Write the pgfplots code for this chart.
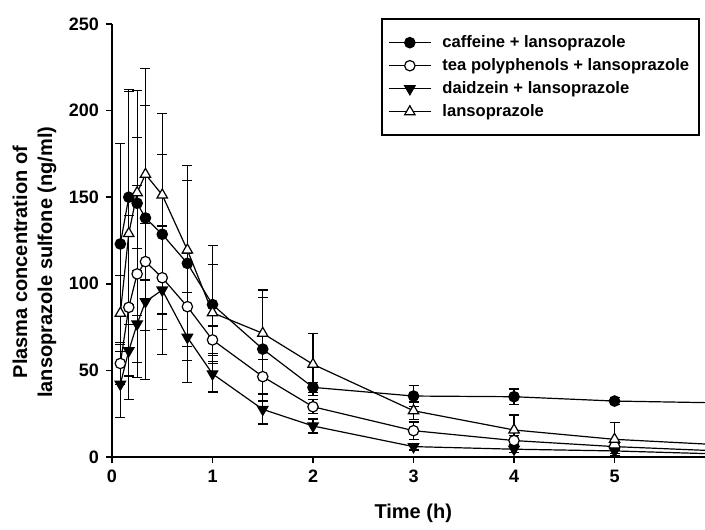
\documentclass[border=0pt]{standalone}
\usepackage{fontspec}
\setmainfont{Liberation Sans}
\usepackage{pgfplots}
\pgfplotsset{compat=1.18}

\begin{document}
\begin{tikzpicture}[x=1pt,y=1pt]
\path[use as bounding box] (-56,-36) rectangle (296.5,228.5);
\begin{axis}[
    at={(0,0)}, anchor=south west,
    scale only axis,
    width=296.5pt, height=216.5pt,
    xmin=0, xmax=5.9,
    ymin=0, ymax=250,
    axis lines=left,
    axis line style={-, line width=0.8pt},
    xtick={0,1,2,3,4,5},
    ytick={0,50,100,150,200,250},
    tick align=outside,
    major tick length=3pt,
    tick style={line width=0.8pt, black},
    ticklabel style={font=\fontsize{9}{10}\selectfont\bfseries},
    /pgf/number format/assume math mode=true,
    xlabel={Time (h)},
    ylabel={Plasma concentration of\\lansoprazole sulfone (ng/ml)},
    label style={font=\fontsize{10}{12.5}\selectfont\bfseries, align=center},
    xlabel style={at={(axis description cs:0.508,-0.129)}, anchor=center},
    ylabel style={at={(axis description cs:-0.1307,0.45)}, anchor=center, rotate=0},
    every axis plot/.append style={black, line width=0.6pt},
    mark indices={1,...,12},
    error bars/y dir=both,
    error bars/y explicit,
    error bars/error bar style={line width=0.6pt},
    error bars/error mark options={rotate=90, mark size=2.5pt, line width=0.6pt},
    legend style={
        at={(rel axis cs:0.9916,1.013)}, anchor=north east,
        draw=black, line width=0.8pt,
        font=\fontsize{8.3}{10}\selectfont\bfseries,
        inner xsep=3pt, inner ysep=6pt,
        row sep=0pt,
        /tikz/every odd column/.append style={column sep=3.5pt},
    },
    legend cell align=left,
    legend image code/.code={
        \draw[mark indices={2}, line width=0.6pt]
        plot coordinates {(0pt,0pt) (10.5pt,0pt) (21pt,0pt)};
    },
]

% caffeine + lansoprazole
\addplot[mark=*, mark size=2.6pt, mark options={fill=black}]
coordinates {
    (0.083,123)   +- (0,58)
    (0.167,150)   +- (0,62)
    (0.25,146.5)  +- (0,65)
    (0.333,138)   +- (0,65)
    (0.5,128.6)   +- (0,46)
    (0.75,111.8)  +- (0,48)
    (1,88)        +- (0,34)
    (1.5,62.3)    +- (0,30)
    (2,40.2)      +- (0,3)
    (3,35.2)      +- (0,6)
    (4,34.8)      +- (0,4.5)
    (5,32.3)      +- (0,2)
    (6,31.3)      +- (0,0)
};
\addlegendentry{caffeine + lansoprazole}

% tea polyphenols + lansoprazole
\addplot[mark=*, mark size=2.6pt, mark options={fill=white}]
coordinates {
    (0.083,54)    +- (0,12)
    (0.167,86.4)  +- (0,53)
    (0.25,105.7)  +- (0,51)
    (0.333,112.8) +- (0,22)
    (0.5,103.5)   +- (0,30)
    (0.75,86.8)   +- (0,31)
    (1,67.6)      +- (0,8)
    (1.5,46.4)    +- (0,10)
    (2,29)        +- (0,4)
    (3,15.2)      +- (0,5)
    (4,9.5)       +- (0,3)
    (5,6)         +- (0,2)
    (6,3.6)       +- (0,0)
};
\addlegendentry{tea polyphenols + lansoprazole}

% daidzein + lansoprazole
\addplot[mark=triangle*, mark size=3pt, mark options={fill=black, rotate=180}]
coordinates {
    (0.083,42)    +- (0,19)
    (0.167,61.4)  +- (0,15)
    (0.25,76.8)   +- (0,31)
    (0.333,89.7)  +- (0,45)
    (0.5,96.4)    +- (0,37)
    (0.75,69.1)   +- (0,26)
    (1,48)        +- (0,10.5)
    (1.5,27.5)    +- (0,8.5)
    (2,17.9)      +- (0,4)
    (3,6)         +- (0,2)
    (4,4.5)       +- (0,2)
    (5,3.5)       +- (0,1.5)
    (6,1.8)       +- (0,0)
};
\addlegendentry{daidzein + lansoprazole}

% lansoprazole
\addplot[mark=triangle*, mark size=3pt, mark options={fill=white}]
coordinates {
    (0.083,83)    +- (0,22)
    (0.167,129)   +- (0,82)
    (0.25,152.6)  +- (0,32)
    (0.333,163.2) +- (0,61)
    (0.5,151.3)   +- (0,47)
    (0.75,119.5)  +- (0,49)
    (1,83.3)      +- (0,28)
    (1.5,71.4)    +- (0,25)
    (2,53.5)      +- (0,18)
    (3,26.7)      +- (0,5)
    (4,15.6)      +- (0,8.6)
    (5,10.2)      +- (0,9.6)
    (6,7.2)       +- (0,0)
};
\addlegendentry{lansoprazole}

\end{axis}
\end{tikzpicture}
\end{document}
